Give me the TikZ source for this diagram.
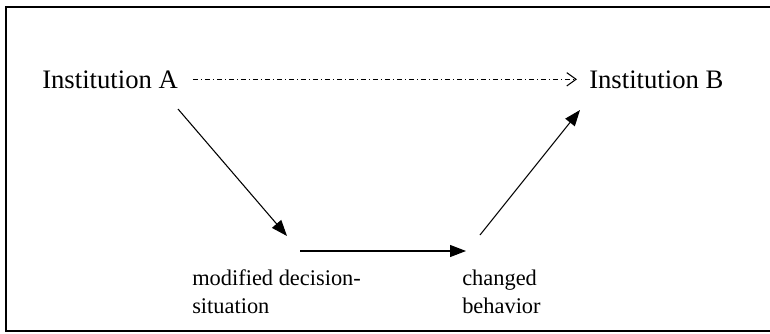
\documentclass[tikz,border=0pt]{standalone}
\usepackage{fontspec}
\setmainfont{Liberation Serif}
\usetikzlibrary{arrows.meta,calc}
\begin{document}
\begin{tikzpicture}[x=0.75pt,y=-0.75pt,
  big/.style={font=\fontsize{20}{24}\selectfont, inner sep=0pt},
  small/.style={font=\fontsize{16.8}{21}\selectfont, inner sep=0pt, align=left},
  solidarrow/.style={line width=0.8pt, -{Triangle[length=12pt,width=9pt]}},
  dasharrow/.style={line width=0.8pt, dash pattern=on 4pt off 2pt on 1pt off 2pt,
     -{Straight Barb[length=7pt,width=10pt,line width=0.8pt]}},
  frame/.style={line width=1pt}]
\useasboundingbox (0,0) rectangle (770,333);
\draw[frame] (770,7) -- (6,7) -- (6,331) -- (770,331);
\node[big, anchor=base west] (A) at (42,88) {Institution A};
\node[big, anchor=base west] (B) at (589,88) {Institution B};
\node[small, anchor=base west] (M) at (192,313) {modified decision-\\situation};
\node[small, anchor=base west] (C) at (462,313) {changed\\behavior};
\coordinate (a1) at (178,109);
\coordinate (a2) at (287,236);
\coordinate (b1) at (300,251);
\coordinate (b2) at (466,251);
\coordinate (c1) at (480,235);
\coordinate (c2) at (580,110);
\draw[dasharrow] ([xshift=11pt]A.east) -- ([xshift=-9pt]B.west);
\draw[solidarrow] (a1) -- (a2);
\draw[solidarrow] (b1) -- (b2);
\draw[solidarrow] (c1) -- (c2);
\end{tikzpicture}
\end{document}
